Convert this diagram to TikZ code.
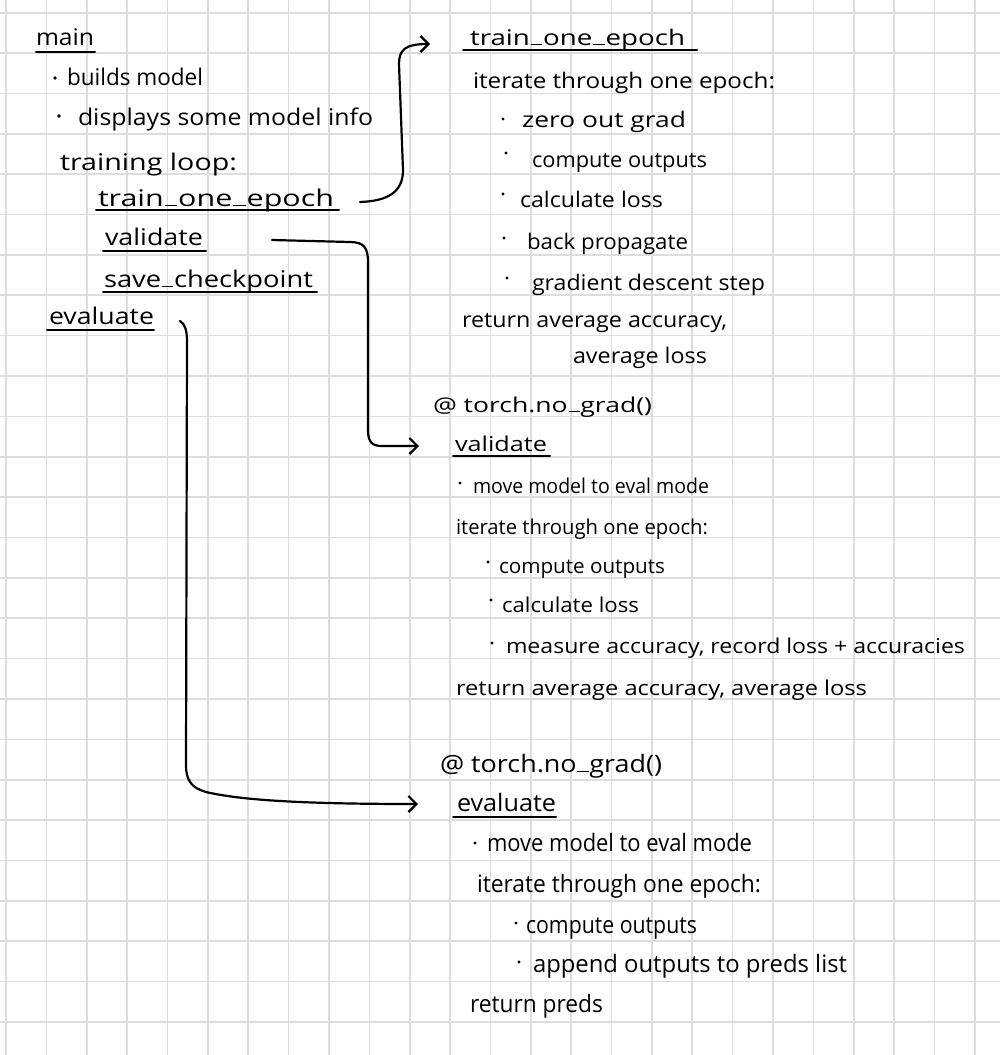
\documentclass[tikz,border=0pt]{standalone}
\usepackage{fontspec}
\setmainfont{Open Sans}
\usetikzlibrary{arrows.meta}
\definecolor{gridc}{RGB}{221,221,221}
\newcommand\hw[2]{\resizebox{#1pt}{\height}{#2}}
\newcommand\us{\kern0.6pt\rule{0.42em}{1.4pt}\kern0.6pt}
\newcommand\fsA{\fontsize{23}{27}\selectfont}
\newcommand\fsB{\fontsize{21.5}{25}\selectfont}
\newcommand\fsC{\fontsize{20.5}{24}\selectfont}
\newcommand\fsD{\fontsize{24}{28}\selectfont}
\begin{document}
\begin{tikzpicture}[x=1pt,y=-1pt,
  gridl/.style={draw=gridc,line width=1.6pt},
  txt/.style={anchor=base west,inner sep=0pt,outer sep=0pt,text=black},
  txA/.style={txt,font=\fsA},
  txB/.style={txt,font=\fsB},
  txC/.style={txt,font=\fsC},
  txD/.style={txt,font=\fsD},
  ul/.style={draw=black,line width=2pt,line cap=round},
  bul/.style={fill=black},
  conn/.style={draw=black,line width=2.2pt,line cap=round,line join=round,
    -{Straight Barb[length=8pt,width=16pt]}}]
\useasboundingbox (0,0) rectangle (1000,1055);
\fill[white] (0,0) rectangle (1000,1055);
% grid
\foreach \i in {0,...,24} \draw[gridl] ({6+40.37*\i},0) -- ({6+40.37*\i},1055);
\foreach \j in {0,...,25} \draw[gridl] (0,{12.7+40.37*\j}) -- (1000,{12.7+40.37*\j});

% ---------- left column: main ----------
\node[txA] (L1) at (36,45) {\hw{58}{main}};
\node[txA] (L2) at (67,85) {\hw{136}{builds model}};
\node[txA] (L3) at (78,125) {\hw{295}{displays some model info}};
\node[txA] (L4) at (60,170) {\hw{177}{training loop:}};
\node[txA] (L5) at (98,206) {\hw{236}{train\us one\us epoch}};
\node[txA] (L6) at (105,245) {\hw{98}{validate}};
\node[txA] (L7) at (104,287) {\hw{209}{save\us checkpoint}};
\node[txA] (L8) at (49,324) {\hw{105}{evaluate}};
\fill[bul] (55,78) circle (1.8);
\fill[bul] (59,116) circle (1.8);
\draw[ul] (36,52) -- (95,52);
\draw[ul] (96,210) -- (339,210);
\draw[ul] (103,251) -- (206,251);
\draw[ul] (103,292) -- (317,292);
\draw[ul] (47,330) -- (154,330);

% ---------- train_one_epoch ----------
\node[txB] (R1) at (470,45) {\hw{215}{train\us one\us epoch}};
\node[txB] (R2) at (473,88) {\hw{302}{iterate through one epoch:}};
\node[txB] (R3) at (522,127) {\hw{164}{zero out grad}};
\node[txB] (R4) at (532,167) {\hw{175}{compute outputs}};
\node[txB] (R5) at (520,207) {\hw{143}{calculate loss}};
\node[txB] (R6) at (527,249) {\hw{161}{back propagate}};
\node[txB] (R7) at (532,290) {\hw{233}{gradient descent step}};
\node[txB] (R8) at (462,327) {\hw{265}{return average accuracy,}};
\node[txB] (R9) at (573,363) {\hw{134}{average loss}};
\fill[bul] (503,119) circle (1.7);
\fill[bul] (506,153) circle (1.7);
\fill[bul] (503,194) circle (1.7);
\fill[bul] (504,238) circle (1.7);
\fill[bul] (507,278) circle (1.7);
\draw[ul] (463,50) -- (697,50);

% ---------- validate ----------
\node[txC] (V1) at (433,412) {\hw{219}{@ torch.no\us grad()}};
\node[txC] (V2) at (455,451) {\hw{92}{validate}};
\node[txC] (V3) at (473,493) {\hw{236}{move model to eval mode}};
\node[txC] (V4) at (456,534) {\hw{252}{iterate through one epoch:}};
\node[txC] (V5) at (499,573) {\hw{166}{compute outputs}};
\node[txC] (V6) at (502,612) {\hw{137}{calculate loss}};
\node[txC] (V7) at (506,653) {\hw{459}{measure accuracy, record loss + accuracies}};
\node[txC] (V8) at (456,695) {\hw{411}{return average accuracy, average loss}};
\fill[bul] (460,483) circle (1.6);
\fill[bul] (488,562) circle (1.6);
\fill[bul] (491,600) circle (1.6);
\fill[bul] (492,643) circle (1.6);
\draw[ul] (453,456) -- (550,456);

% ---------- evaluate ----------
\node[txD] (E1) at (440,772) {\hw{222}{@ torch.no\us grad()}};
\node[txD] (E2) at (457,811) {\hw{99}{evaluate}};
\node[txD] (E3) at (487,851) {\hw{265}{move model to eval mode}};
\node[txD] (E4) at (477,892) {\hw{284}{iterate through one epoch:}};
\node[txD] (E5) at (526,933) {\hw{171}{compute outputs}};
\node[txD] (E6) at (533,972) {\hw{314}{append outputs to preds list}};
\node[txD] (E7) at (470,1012) {\hw{133}{return preds}};
\fill[bul] (475,843) circle (1.7);
\fill[bul] (516,923) circle (1.7);
\fill[bul] (519,962) circle (1.7);
\draw[ul] (453,817) -- (556,817);

% ---------- connectors ----------
\coordinate (a1s) at (360,202);
\coordinate (a1e) at (430,44);
\coordinate (a2s) at (272,240);
\coordinate (a2e) at (419,446);
\coordinate (a3s) at (180,321);
\coordinate (a3e) at (418,804);
\draw[conn] (a1s) .. controls (388,201) and (403,192) .. (403,170)
  -- (399,64) .. controls (399,50) and (405,44) .. (a1e);
\draw[conn] (a2s) -- (350,242) .. controls (364,242) and (368,248) .. (368,262)
  -- (368,430) .. controls (368,442) and (372,446) .. (382,446) -- (a2e);
\draw[conn] (a3s) .. controls (185,324) and (187,330) .. (187,342)
  -- (186,765) .. controls (186,781) and (192,788) .. (206,792)
  .. controls (240,800) and (300,804) .. (a3e);
\end{tikzpicture}
\end{document}
